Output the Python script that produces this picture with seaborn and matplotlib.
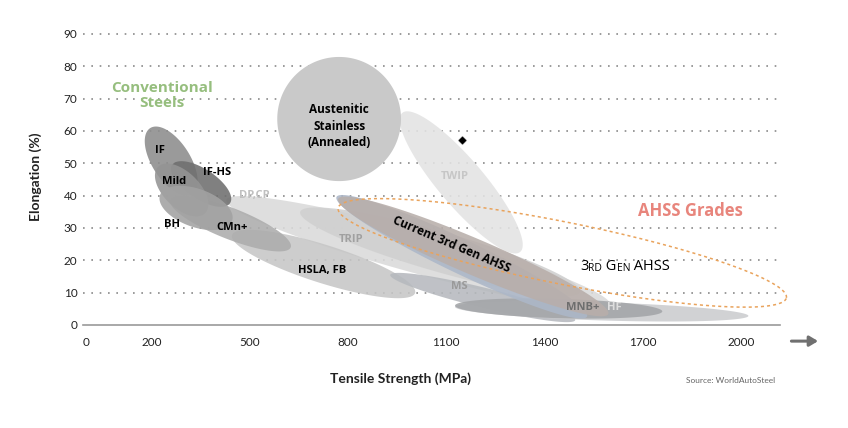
import numpy as np
import matplotlib
matplotlib.use("Agg")
import matplotlib.pyplot as plt
import seaborn as sns

# steel grade bands: each one runs from (ts_a, el_a) to (ts_b, el_b)
# spread = thickness of the band in elongation points
grade_names = ["TWIP", "DP,CP", "TRIP", "HSLA, FB", "MS", "HF", "MNB",
               "3rd Gen base", "Current 3rd Gen AHSS", "CMn+", "IF", "IF-HS",
               "Mild", "BH", "Austenitic Stainless"]
ts_a = [966, 428, 654, 446, 929, 1127, 1127, 765, 770, 257, 196, 263, 220, 226, 584]
el_a = [65.6, 38.7, 35.0, 27.8, 15.5, 5.6, 6.0, 39.6, 39.0, 38.7, 60.9, 49.5, 48.9, 40.2, 63.7]
ts_b = [1326, 1601, 1509, 1005, 1494, 2023, 1760, 1530, 1595, 625, 324, 440, 364, 446, 962]
el_b = [22.6, 6.2, 10.2, 9.9, 1.5, 2.8, 4.2, 2.6, 3.4, 24.0, 40.5, 37.7, 34.6, 32.2, 63.7]
spread = [14.2, 13.0, 12.4, 11.8, 6.2, 5.6, 6.0, 10.6, 11.1, 9.6, 11.8, 9.3, 11.1, 11.8, 38.4]

grade_colors = ["#e3e3e3", "#dadada", "#d0d0d0", "#c6c6c6", "#b6b9be", "#cbcccf", "#a3a5a8",
                "#acb7c8", "#b8aeaa", "#acacac", "#8c8c8c", "#6f6f6f",
                "#949494", "#a2a2a2", "#c9c9c9"]

# AHSS envelope (dotted)
ahss_ts = [770, 2139]
ahss_el = [36.2, 8.4]
ahss_spread = 19.2

# single point
point_ts = [1149]
point_el = [57.2]

xticks = [0, 200, 500, 800, 1100, 1400, 1700, 2000]
yticks = [0, 10, 20, 30, 40, 50, 60, 70, 80, 90]

sns.set_style("white")
plt.rcParams["font.family"] = ["Lato", "DejaVu Sans"]

fig = plt.figure(figsize=(8.48, 4.28), dpi=100)
ax = fig.add_axes([0.098, 0.2407, 0.822, 0.695])
ax.set_xlim(-9, 2120)
ax.set_ylim(0, 92)


def band_xy(ax, x0, y0, x1, y1, thick, n=240):
    # build the ellipse in pixel space so it isn't squashed by the axis scales
    p0 = ax.transData.transform((x0, y0))
    p1 = ax.transData.transform((x1, y1))
    w = ax.transData.transform((0, thick))[1] - ax.transData.transform((0, 0))[1]
    c = (p0 + p1) / 2
    d = p1 - p0
    a = np.hypot(d[0], d[1]) / 2
    ang = np.arctan2(d[1], d[0])
    t = np.linspace(0, 2 * np.pi, n)
    ex = a * np.cos(t)
    ey = w / 2 * np.sin(t)
    px = c[0] + ex * np.cos(ang) - ey * np.sin(ang)
    py = c[1] + ex * np.sin(ang) + ey * np.cos(ang)
    pts = ax.transData.inverted().transform(np.column_stack([px, py]))
    return pts[:, 0], pts[:, 1]


# dotted gridlines
for yv in yticks[1:]:
    ax.axhline(yv, color="#8a8a8a", lw=1.2, ls=(0, (1, 4)), zorder=0)

for i, name in enumerate(grade_names):
    xs, ys = band_xy(ax, ts_a[i], el_a[i], ts_b[i], el_b[i], spread[i])
    alpha = 1.0 if name == "Austenitic Stainless" else 0.88
    ax.fill(xs, ys, color=grade_colors[i], alpha=alpha, lw=0, zorder=2 + i * 0.01)

xs, ys = band_xy(ax, ahss_ts[0], ahss_el[0], ahss_ts[1], ahss_el[1], ahss_spread)
ax.plot(xs, ys, color="#e9a35c", lw=1.1, ls=(0, (2, 2)), zorder=3, clip_on=False)

sns.scatterplot(x=point_ts, y=point_el, marker="D", s=22, color="black", ax=ax, zorder=4)

lab = dict(family=["Open Sans", "DejaVu Sans"], fontweight="bold", zorder=5)
ax.text(232, 71.1, "Conventional\nSteels", ha="center", va="center", color="#96be7e",
        fontsize=11, linespacing=1.1, **lab)
ax.text(1845, 35.3, "AHSS Grades", ha="center", va="center", color="#e8857c", fontsize=12, **lab)
ax.text(773, 61.5, "Austenitic\nStainless\n(Annealed)", ha="center", va="center",
        color="black", fontsize=8.5, linespacing=1.35, **lab)
ax.text(226, 54.1, "IF", ha="center", va="center", fontsize=8, color="black", **lab)
ax.text(269, 44.5, "Mild", ha="center", va="center", fontsize=8, color="black", **lab)
ax.text(400, 47.3, "IF-HS", ha="center", va="center", fontsize=8, color="black", **lab)
ax.text(513, 40.2, "DP,CP", ha="center", va="center", fontsize=8, color="#c0c0c0", **lab)
ax.text(263, 31.2, "BH", ha="center", va="center", fontsize=8, color="black", **lab)
ax.text(446, 30.0, "CMn+", ha="center", va="center", fontsize=8, color="black", **lab)
ax.text(810, 26.3, "TRIP", ha="center", va="center", fontsize=8, color="#a0a0a0", **lab)
ax.text(721, 17.0, "HSLA, FB", ha="center", va="center", fontsize=8, color="black", **lab)
ax.text(1140, 11.8, "MS", ha="center", va="center", fontsize=8, color="#9a9a9a", **lab)
ax.text(1127, 45.8, "TWIP", ha="center", va="center", fontsize=8, color="#c6c6c6", **lab)
ax.text(1115, 25.0, "Current 3rd Gen AHSS", ha="center", va="center", fontsize=8.5,
        color="black", rotation=-23, rotation_mode="anchor", **lab)
ax.text(1518, 5.3, "MNB+", ha="center", va="center", fontsize=8, color="#6e6e6e", **lab)
ax.text(1612, 5.3, "HF", ha="center", va="center", fontsize=8, color="#dedede", **lab)

# small caps label
pieces = [("3", 10.5), ("RD", 7.5), (" G", 10.5), ("EN", 7.5), (" AHSS", 10.5)]
prev = ax.text(1509, 17.0, pieces[0][0], ha="left", va="baseline", fontsize=pieces[0][1],
               color="black", family=["Open Sans", "DejaVu Sans"], fontweight="medium", zorder=5)
for s, fs in pieces[1:]:
    prev = ax.annotate(s, xy=(1, 0), xycoords=prev, va="bottom", ha="left", fontsize=fs,
                       color="black", family=["Open Sans", "DejaVu Sans"],
                       fontweight="medium", zorder=5)

ax.set_xticks(xticks)
ax.set_xticklabels([str(v) for v in xticks])
ax.set_yticks(yticks)
ax.tick_params(axis="both", length=0, labelsize=8.5, colors="#222222")
ax.tick_params(axis="x", pad=9)
ax.tick_params(axis="y", pad=4)
ax.grid(False)
for side in ["top", "right", "left"]:
    ax.spines[side].set_visible(False)
ax.spines["bottom"].set_color("#9a9a9a")
ax.spines["bottom"].set_linewidth(1.2)

ax.set_xlabel("Tensile Strength (MPa)", fontsize=10, fontweight="bold", color="#222222")
ax.set_ylabel("Elongation (%)", fontsize=10, fontweight="bold", color="#222222")
ax.xaxis.set_label_coords(0.455, -0.16)
ax.yaxis.set_label_coords(-0.059, 0.5)

fig.text(0.914, 0.112, "Source: WorldAutoSteel", ha="right", va="center", fontsize=6,
         color="#666666")
ax.annotate("", xy=(0.968, 0.203), xytext=(0.930, 0.203), xycoords="figure fraction",
            arrowprops=dict(arrowstyle="-|>,head_length=0.5,head_width=0.3", color="#707070",
                            lw=2.2))

fig.savefig("out.png", dpi=100)
